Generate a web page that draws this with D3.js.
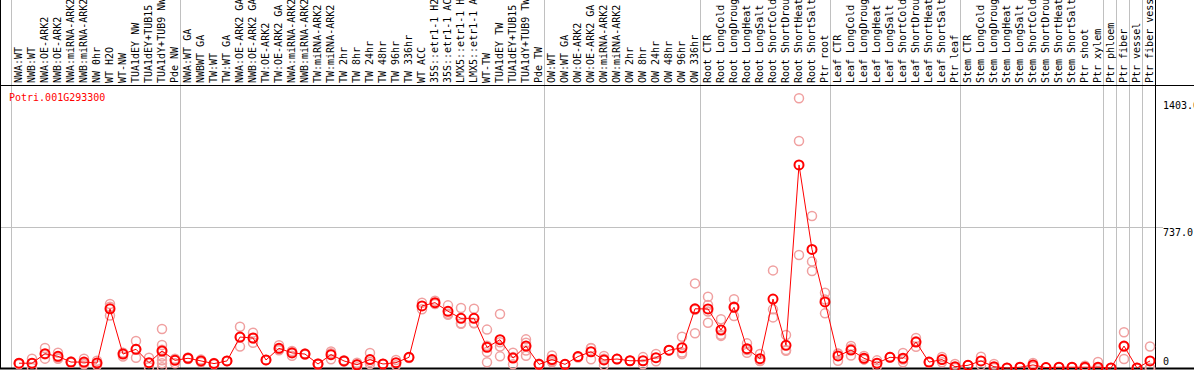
<!DOCTYPE html>
<html>
<head>
<meta charset="utf-8">
<script src="https://cdn.jsdelivr.net/npm/d3@7"></script>
<style>
  body { margin: 0; background: #fff; }
  svg { display: block; }
  text { font-family: "DejaVu Sans Mono", monospace; font-size: 10px; }
</style>
</head>
<body>
<div id="chart"></div>
<script>

var gene = "Potri.001G293300";

var samples = [
  "NWA:WT", "NWB:WT", "NWA:OE-ARK2", "NWB:OE-ARK2", "NWA:miRNA-ARK2", "NWB:miRNA-ARK2",
  "NW 0hr", "WT H2O", "WT-NW", "TUA1dEY NW", "TUA1dEY+TUB15", "TUA1dY+TUB9 NW", "Pde NW",
  "NWA:WT GA", "NWBWT GA", "TW:WT", "TW:WT GA", "NWA:OE-ARK2 GA", "NWB:OE-ARK2 GA",
  "TW:OE-ARK2", "TW:OE-ARK2 GA", "NWA:miRNA-ARK2", "NWB:miRNA-ARK2", "TW:miRNA-ARK2",
  "TW:miRNA-ARK2", "TW 2hr", "TW 8hr", "TW 24hr", "TW 48hr", "TW 96hr", "TW 336hr",
  "WT ACC", "35S::etr1-1 H2O", "35S::etr1-1 ACC", "LMX5::etr1-1 H2O", "LMX5::etr1-1 ACC",
  "WT-TW", "TUA1dEY TW", "TUA1dEY+TUB15", "TUA1dY+TUB9 TW", "Pde TW",
  "OW:WT", "OW:WT GA", "OW:OE-ARK2", "OW:OE-ARK2 GA", "OW:miRNA-ARK2", "OW:miRNA-ARK2",
  "OW 2hr", "OW 8hr", "OW 24hr", "OW 48hr", "OW 96hr", "OW 336hr",
  "Root CTR", "Root LongCold", "Root LongDrought", "Root LongHeat", "Root LongSalt",
  "Root ShortCold", "Root ShortDrought", "Root ShortHeat", "Root ShortSalt", "Ptr root",
  "Leaf CTR", "Leaf LongCold", "Leaf LongDrought", "Leaf LongHeat", "Leaf LongSalt",
  "Leaf ShortCold", "Leaf ShortDrought", "Leaf ShortHeat", "Leaf ShortSalt", "Ptr leaf",
  "Stem CTR", "Stem LongCold", "Stem LongDrought", "Stem LongHeat", "Stem LongSalt",
  "Stem ShortCold", "Stem ShortDrought", "Stem ShortHeat", "Stem ShortSalt",
  "Ptr shoot", "Ptr xylem", "Ptr phloem", "Ptr fiber", "Ptr vessel", "Ptr fiber vessel"
];

// index where a new group starts (grey separators)
var groupStarts = [0, 13, 41, 53, 63, 73, 84, 85, 86, 87];

var means = [
  25, 25, 75, 61, 31, 31, 26, 310, 73, 98, 28, 89, 40,
  51, 37, 23, 37, 162, 157, 42, 103, 79, 73, 21, 70, 37, 17, 44, 21, 28, 56,
  325, 342, 297, 260, 260, 108, 148, 52, 115, 19,
  44, 19, 60, 85, 42, 47, 38, 38, 54, 93, 106, 310,
  309, 199, 318, 101, 49, 361, 119, 1063, 621, 346,
  63, 94, 51, 25, 56, 51, 136, 31, 44, 7,
  14, 37, 7, 0, 4, 16, 2, 4, 4, 4, 4,
  0, 115, 0, 37
];

var reps = [
  [25, 25, 20], [49, 0, 25], [105, 49, 72], [80, 55, 48], [31, 28, 34], [49, 25, 19],
  [38, 26, 14], [335, 321, 275], [80, 60, 79], [141, 54, 99], [54, 4, 26],
  [204, 120, 95, 60, 41, 25, 4], [49, 25, 45],
  [51, 55, 47], [37, 30, 44], [23, 20, 26], [37, 37], [216, 112, 160], [185, 132, 155],
  [42, 42], [119, 97, 93], [89, 64, 84], [73, 70, 76], [21, 18, 24], [87, 46, 77],
  [37, 40, 34], [28, 4, 19], [79, 21, 32], [21, 21], [42, 14], [56, 52],
  [342, 308], [352, 335, 339], [328, 279, 284], [314, 234, 232], [310, 234, 236],
  [201, 84, 30, 117], [283, 113, 61, 135], [80, 19, 57], [150, 132, 115, 91, 64], [19, 22, 16],
  [65, 30, 37], [19, 19], [60, 55], [105, 46, 104], [63, 14, 49], [47, 47], [38, 38],
  [57, 19], [73, 35], [93, 93], [164, 73, 81], [443, 182, 305],
  [373, 330, 237, 296], [255, 168, 174], [360, 272, 322], [129, 94, 80], [73, 38, 36],
  [511, 307, 265], [173, 94, 90], [1412, 1188, 592], [796, 557, 508], [394, 286, 358],
  [38, 75, 76], [115, 65, 102], [63, 45, 45], [25, 10, 40], [56, 58], [79, 30, 44],
  [157, 140, 111], [31, 28], [58, 30], [21, 0],
  [14, 14], [59, 15], [21, 0], [0, 0], [4, 4], [26, 6], [2, 2], [4, 2], [4, 4],
  [12, 0, 0], [31, 0, 0],
  [0, 0], [187, 47, 111], [0, 0], [113, 0, 0]
];

var yTicks = [0, 737.0, 1403.0];

var W = 1194, H = 370;
var left = 11, colW = 13, headBottom = 85, plotBottom = 368, yTop = 100;

var svg = d3.select("#chart").append("svg").attr("width", W).attr("height", H);

var x = d3.scaleBand().domain(d3.range(samples.length))
    .range([left, left + colW * samples.length]).padding(0);
var right = left + colW * samples.length;
var y = d3.scaleLinear().domain([0, 1403]).range([plotBottom, yTop]);

function cx(i) { return x(i) + x.bandwidth() / 2 + 1.5; }

// horizontal grid at mid tick
svg.append("line")
    .attr("x1", 0).attr("x2", right + 8)
    .attr("y1", Math.round(y(737)) + 0.5).attr("y2", Math.round(y(737)) + 0.5)
    .attr("stroke", "#c0c0c0");

// group separators
svg.selectAll("line.grp").data(groupStarts).enter().append("line")
    .attr("class", "grp")
    .attr("x1", function(d) { return x(d) + 0.5; })
    .attr("x2", function(d) { return x(d) + 0.5; })
    .attr("y1", 0).attr("y2", plotBottom)
    .attr("stroke", "#c0c0c0");

// frame
svg.append("line").attr("x1", 0.5).attr("x2", 0.5).attr("y1", 0).attr("y2", plotBottom + 1)
    .attr("stroke", "#000");
svg.append("line").attr("x1", right + 0.5).attr("x2", right + 0.5).attr("y1", 0).attr("y2", plotBottom + 1)
    .attr("stroke", "#000");
svg.append("line").attr("x1", 0).attr("x2", W).attr("y1", headBottom + 0.5).attr("y2", headBottom + 0.5)
    .attr("stroke", "#000");
svg.append("line").attr("x1", 0).attr("x2", W).attr("y1", plotBottom + 0.5).attr("y2", plotBottom + 0.5)
    .attr("stroke", "#000").attr("stroke-width", 2);

// sample labels, rotated
var head = svg.append("g");
head.append("clipPath").attr("id", "hclip").append("rect")
    .attr("x", 0).attr("y", 0).attr("width", W).attr("height", headBottom);
head.attr("clip-path", "url(#hclip)");
head.selectAll("text").data(samples).enter().append("text")
    .attr("transform", function(d, i) {
        return "translate(" + (x(i) + 11) + "," + (headBottom - 2) + ") rotate(-90)";
    })
    .attr("fill", "#000")
    .text(function(d) { return d; });

// gene name
svg.append("text").attr("x", 9).attr("y", 101).attr("fill", "#f00").text(gene);

// y tick labels
svg.selectAll("text.tick").data(yTicks).enter().append("text")
    .attr("class", "tick")
    .attr("x", right + 8)
    .attr("y", function(d) { return d === 0 ? y(d) - 3 : y(d) + 9; })
    .attr("fill", "#000")
    .text(function(d) { return d === 0 ? "0" : d.toFixed(1); });

// replicate points
var repPts = [];
reps.forEach(function(r, i) { r.forEach(function(v) { repPts.push({ i: i, v: v }); }); });
svg.selectAll("circle.rep").data(repPts).enter().append("circle")
    .attr("class", "rep")
    .attr("cx", function(d) { return cx(d.i); })
    .attr("cy", function(d) { return y(d.v); })
    .attr("r", 4.5)
    .attr("fill", "none")
    .attr("stroke", "#f0a0a0")
    .attr("stroke-width", 1.5);

// mean line
var line = d3.line().x(function(d, i) { return cx(i); }).y(function(d) { return y(d); });
svg.append("path").datum(means)
    .attr("d", line)
    .attr("fill", "none")
    .attr("stroke", "#f00")
    .attr("stroke-width", 1);

// mean markers
svg.selectAll("circle.mean").data(means).enter().append("circle")
    .attr("class", "mean")
    .attr("cx", function(d, i) { return cx(i); })
    .attr("cy", function(d) { return y(d); })
    .attr("r", 4.5)
    .attr("fill", "none")
    .attr("stroke", "#f00")
    .attr("stroke-width", 2);

</script>
</body>
</html>
